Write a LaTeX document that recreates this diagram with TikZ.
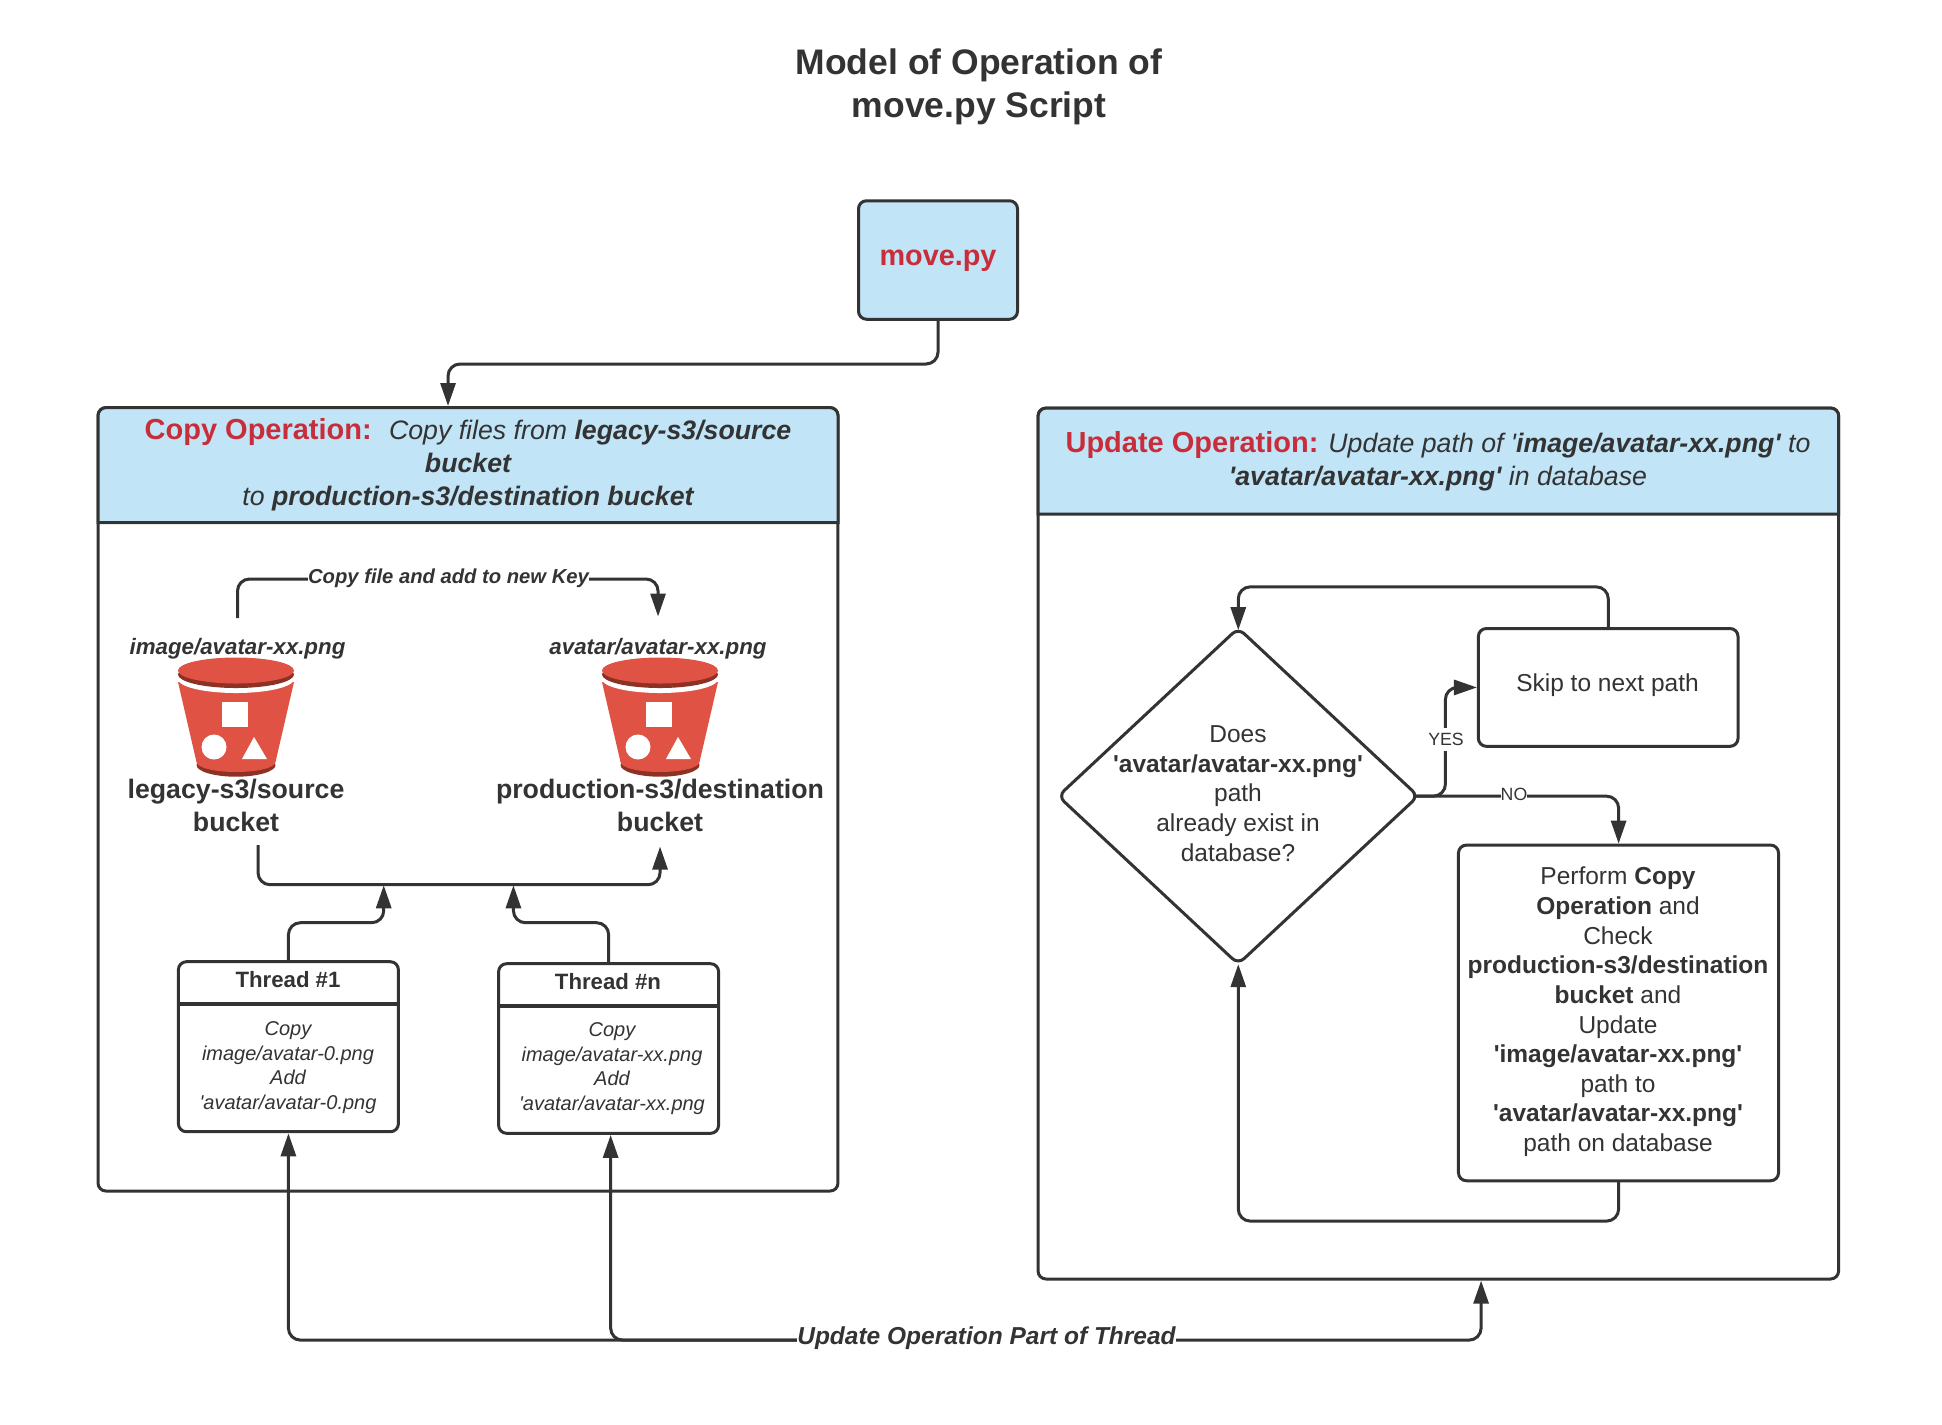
\documentclass[tikz,border=0pt]{standalone}
\usepackage{fontspec}
\usetikzlibrary{arrows.meta,shapes.geometric}
\newfontfamily\lucidfont{Liberation Sans}
\newcommand{\fontpx}[2]{\lucidfont\fontsize{#1}{#2}\selectfont}
\newcommand{\redhead}[1]{{\color{alertred}\fontsize{8.25pt}{9.3pt}\selectfont\bfseries\upshape #1}}
\definecolor{ink}{HTML}{333333}
\definecolor{headblue}{HTML}{C1E4F7}
\definecolor{alertred}{HTML}{C92D39}
\definecolor{bucketred}{HTML}{E05243}
\definecolor{bucketdark}{HTML}{8C3123}
\tikzset{
  boxline/.style={draw=ink,line width=0.3mm,rounded corners=0.8mm},
  plainbox/.style={rectangle,boxline,fill=white},
  flow/.style={draw=ink,line width=0.3mm,rounded corners=1.2mm,shorten >=0.15mm,-{Triangle[length=2.3mm,width=1.5mm]}},
  titletext/.style={font=\fontpx{10.1pt}{12.2pt}\bfseries,align=center},
  headtext/.style={font=\fontpx{7.6pt}{9.3pt}\itshape,align=center},
  bucketname/.style={font=\fontpx{7.6pt}{9.3pt}\bfseries,align=center},
  keytext/.style={font=\fontpx{6.35pt}{7.6pt}\bfseries\itshape},
  threadtitle/.style={font=\fontpx{6.32pt}{7.6pt}\bfseries},
  threadtext/.style={font=\fontpx{5.69pt}{6.95pt}\itshape,align=center},
  flowtext/.style={font=\fontpx{6.97pt}{8.43pt},align=center},
  choicetext/.style={font=\fontpx{5.04pt}{6pt},fill=white,inner ysep=0.5mm},
  bucketicon/.pic={
    \fill [bucketdark] (0,-9.45) ellipse [x radius=3.95,y radius=1.17];
    \fill [bucketred] (-5.8,-1.15) -- (-3.95,-9.15) arc [start angle=180,end angle=360,x radius=3.95,y radius=1] -- (5.8,-1.15) -- cycle;
    \fill [white] (0,-0.85) ellipse [x radius=5.8,y radius=1.4];
    \fill [bucketdark] (0,-0.4) ellipse [x radius=5.8,y radius=1.35];
    \fill [bucketred] (0,0) ellipse [x radius=5.8,y radius=1.3];
    \fill [white] (-1.4,-3.15) rectangle (1.2,-5.65);
    \fill [white] (-2.2,-7.65) circle (1.25);
    \fill [white] (1.8,-6.65) -- (0.6,-8.85) -- (3.1,-8.85) -- cycle;
  }
}
\begin{document}
\begin{tikzpicture}[scale=0.1]
\tikzstyle{every node}+=[inner sep=0pt,outer sep=0pt,text=ink]
\useasboundingbox [fill=white] (0,0) rectangle (194.2,-142.4);
\node (modeltitle) at (97.9,-11.7) [titletext,anchor=base] {Model of Operation of\\move.py Script};
\node (movebox) at (93.8,-26) [plainbox,fill=headblue,minimum width=15.9mm,minimum height=11.85mm] {};
\node (movename) at (93.8,-26.5) [anchor=base,text=alertred,font=\fontpx{8.2pt}{10pt}\bfseries] {move.py};
\node (copypanel) at (46.8,-79.93) [plainbox,minimum width=74mm,minimum height=78.35mm] {};
\coordinate (copysplit) at (0,-52.27);
\draw [draw=ink,line width=0.3mm,fill=headblue] (copypanel.west |- copysplit) [rounded corners=0.8mm] -- (copypanel.north west) -- (copypanel.north east) [sharp corners] -- (copypanel.east |- copysplit) -- cycle;
\node (copyhead) at (46.8,-50.5) [headtext,anchor=base] {\redhead{Copy Operation:}\hspace{4.9pt}Copy files from \textbf{legacy-s3/source}\\\textbf{bucket}\\to \textbf{production-s3/destination bucket}};
\node (updatepanel) at (143.83,-84.35) [plainbox,minimum width=80.06mm,minimum height=87.1mm] {};
\coordinate (updatesplit) at (0,-51.4);
\draw [draw=ink,line width=0.3mm,fill=headblue] (updatepanel.west |- updatesplit) [rounded corners=0.8mm] -- (updatepanel.north west) -- (updatepanel.north east) [sharp corners] -- (updatepanel.east |- updatesplit) -- cycle;
\node (updatehead) at (143.8,-48.5) [headtext,anchor=base] {\redhead{Update Operation:} Update path of '\textbf{image/avatar-xx.png'} to\\\textbf{'avatar/avatar-xx.png'} in database};
\pic [scale=0.1] at (23.6,-67.05) {bucketicon};
\pic [scale=0.1] at (66,-67.05) {bucketicon};
\node (legacykey) at (23.75,-65.4) [keytext,anchor=base] {image/avatar-xx.png};
\node (productionkey) at (65.8,-65.4) [keytext,anchor=base] {avatar/avatar-xx.png};
\node (legacyname) at (23.6,-83.1) [bucketname,anchor=base] {legacy-s3/source\\bucket};
\node (productionname) at (66,-83.1) [bucketname,anchor=base] {production-s3/destination\\bucket};
\coordinate (legacyup) at (23.75,-61.8);
\coordinate (productionup) at (65.8,-61.8);
\coordinate (legacydown) at (25.8,-84.5);
\coordinate (productiondown) at (66,-84.5);
\coordinate (bracketleft) at (38.37,-88.37);
\coordinate (bracketright) at (51.34,-88.37);
\draw [flow] (legacyup) |- (35,-57.9) -| (productionup);
\node (copylabel) at (44.85,-58.35) [keytext,anchor=base,fill=white,font=\fontpx{5.75pt}{7pt}\bfseries\itshape] {Copy file and add to new Key};
\draw [flow] (legacydown) |- (45,-88.47) -| (productiondown);
\node (threadone) at (28.84,-104.67) [plainbox,minimum width=22mm,minimum height=17mm] {};
\node (threadn) at (60.86,-104.85) [plainbox,minimum width=22mm,minimum height=16.96mm] {};
\coordinate (threadonesplit) at (0,-100.4);
\coordinate (threadnsplit) at (0,-100.57);
\draw [draw=ink,line width=0.35mm] (threadone.west |- threadonesplit) -- (threadone.east |- threadonesplit);
\draw [draw=ink,line width=0.35mm] (threadn.west |- threadnsplit) -- (threadn.east |- threadnsplit);
\node (threadonename) at (28.8,-98.7) [threadtitle,anchor=base] {Thread \#1};
\node (threadnname) at (60.8,-98.9) [threadtitle,anchor=base] {Thread \#n};
\node (threadonetext) at (28.8,-110.9) [threadtext,anchor=base] {Copy\\image/avatar-0.png\\Add\\'avatar/avatar-0.png};
\node (threadntext) at (61.2,-111) [threadtext,anchor=base] {Copy\\image/avatar-xx.png\\Add\\'avatar/avatar-xx.png};
\draw [flow] (threadone.north) |- (33,-92.27) -| (bracketleft);
\draw [flow] (threadn.north) |- (55,-92.27) -| (bracketright);
\node (checkdiamond) at (123.82,-79.61) [diamond,boxline,fill=white,minimum width=36mm,minimum height=33.6mm] {};
\node (checktext) at (123.8,-86.1) [flowtext,anchor=base] {Does\\\textbf{'avatar/avatar-xx.png'}\\path\\already exist in\\database?};
\node (skipbox) at (160.82,-68.74) [plainbox,minimum width=25.97mm,minimum height=11.78mm] {};
\node (skiptext) at (160.75,-69.1) [flowtext,anchor=base] {Skip to next path};
\node (performbox) at (161.85,-101.29) [plainbox,minimum width=32.01mm,minimum height=33.57mm] {};
\node (performtext) at (161.8,-115.15) [flowtext,anchor=base] {Perform \textbf{Copy}\\\textbf{Operation} and\\Check\\\textbf{production-s3/destination}\\\textbf{bucket} and\\Update\\\textbf{'image/avatar-xx.png'}\\path to\\\textbf{'avatar/avatar-xx.png'}\\path on database};
\coordinate (yesbend) at (144.53,-68.74);
\coordinate (looptop) at (123.82,-58.68);
\coordinate (loopbottom) at (123.82,-122.1);
\draw [flow,shorten <=-0.4mm] (checkdiamond.east) -| (yesbend) -- (skipbox.west);
\draw [flow,shorten <=-0.4mm] (checkdiamond.east) -| (performbox.north);
\draw [flow,shorten >=-0.2mm] (skipbox.north) |- (looptop) -- (checkdiamond.north);
\draw [flow,shorten >=0mm] (performbox.south) |- (loopbottom) -- (checkdiamond.south);
\node (yeslabel) at (144.6,-74.56) [choicetext,anchor=base] {YES};
\node (nolabel) at (151.4,-80) [choicetext,anchor=base] {NO};
\coordinate (movein) at (44.8,-40.75);
\draw [flow] (movebox.south) |- (70,-36.4) -| (movein);
\coordinate (trunkmid) at (98.6,-134);
\coordinate (threadnin) at (61.06,-113.33);
\coordinate (updatein) at (148.1,-127.9);
\draw [flow] (trunkmid) -| (threadone.south);
\draw [flow] (trunkmid) -| (threadnin);
\draw [flow] (trunkmid) -| (updatein);
\node (trunklabel) at (98.65,-134.4) [anchor=base,fill=white,font=\fontpx{6.97pt}{8.4pt}\bfseries\itshape] {Update Operation Part of Thread};
\end{tikzpicture}
\end{document}
